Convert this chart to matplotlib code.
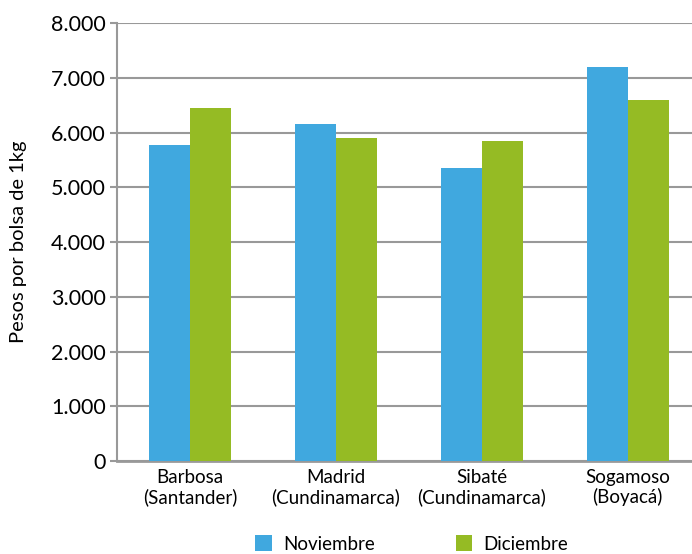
import matplotlib.pyplot as plt
import numpy as np

# Datos: precio por bolsa de 1kg
ciudades = ['Barbosa\n(Santander)', 'Madrid\n(Cundinamarca)',
            'Sibaté\n(Cundinamarca)', 'Sogamoso\n(Boyacá)']
noviembre = [5780, 6150, 5360, 7200]
diciembre = [6460, 5910, 5850, 6590]
yticks = [0, 1000, 2000, 3000, 4000, 5000, 6000, 7000, 8000]
ytick_labels = ['0', '1.000', '2.000', '3.000', '4.000', '5.000', '6.000', '7.000', '8.000']

plt.rcParams['font.family'] = ['Lato', 'DejaVu Sans']

fig = plt.figure(figsize=(6.92, 5.54), dpi=100)
ax = fig.add_axes([0.169, 0.168, 0.831, 0.79])

x = np.arange(len(ciudades))
w = 0.28
ax.bar(x - w / 2, noviembre, w, color='#40a8df', label='Noviembre', zorder=3)
ax.bar(x + w / 2, diciembre, w, color='#95bb24', label='Diciembre', zorder=3)

ax.set_ylim(0, 8000)
ax.set_xlim(-0.5, 3.44)
ax.set_yticks(yticks)
ax.set_yticklabels(ytick_labels, fontsize=15.5)
ax.set_xticks(x)
ax.set_xticklabels(ciudades, fontsize=13.5, linespacing=1.1)
ax.tick_params(axis='x', length=0, pad=6)
ax.tick_params(axis='y', length=5, width=1.5, color='#999999', pad=3)
ax.grid(axis='y', color='#999999', linewidth=1.5, zorder=0)
ax.set_ylabel('Pesos por bolsa de 1kg', fontsize=14.5, labelpad=17)

for s in ['top', 'right']:
    ax.spines[s].set_visible(False)
ax.spines['left'].set_color('#999999')
ax.spines['left'].set_linewidth(1.5)
ax.spines['bottom'].set_color('#999999')
ax.spines['bottom'].set_linewidth(2)

fig.legend(loc='lower center', bbox_to_anchor=(0.595, -0.028), ncol=2, frameon=False,
           fontsize=13.5, handlelength=0.9, handleheight=0.9, handletextpad=0.6,
           columnspacing=4.3)

fig.savefig('out.png', dpi=100)
